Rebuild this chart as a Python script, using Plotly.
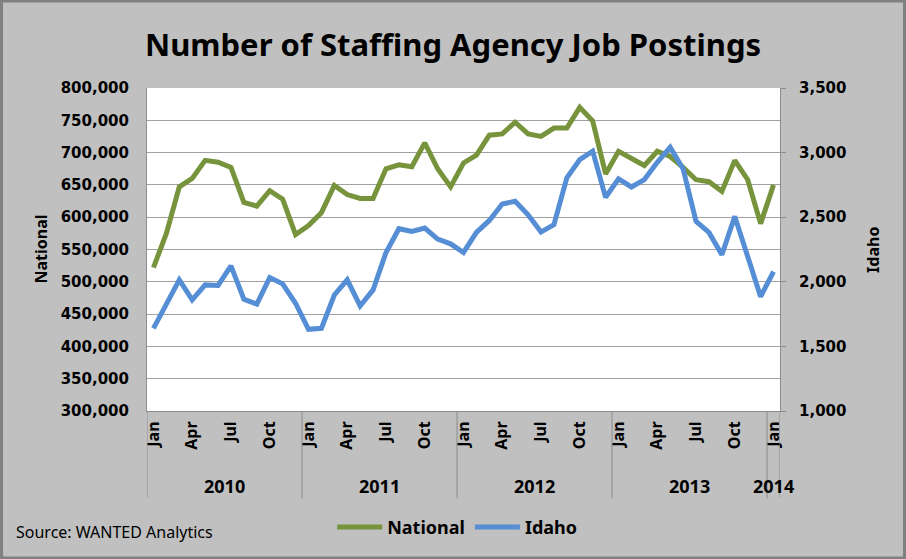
import plotly.graph_objects as go

# monthly postings, Jan 2010 .. Jan 2014
months = ["Jan", "Feb", "Mar", "Apr", "May", "Jun", "Jul", "Aug", "Sep", "Oct", "Nov", "Dec"] * 4 + ["Jan"]
years = ["2010", "2011", "2012", "2013", "2014"]

national = [
    522000, 575000, 647000, 660000, 688000, 685000, 677000, 623000, 617000, 641000, 628000, 573000,
    587000, 607000, 649000, 635000, 629000, 629000, 675000, 681000, 678000, 715000, 675000, 647000,
    684000, 696000, 727000, 729000, 747000, 729000, 725000, 738000, 738000, 770000, 749000, 667000,
    702000, 692000, 680000, 702000, 694000, 677000, 658000, 655000, 640000, 688000, 658000, 590000,
    650000,
]
idaho = [
    1640, 1828, 2015, 1860, 1976, 1972, 2123, 1865, 1828, 2033, 1984, 1834,
    1632, 1640, 1898, 2015, 1813, 1937, 2227, 2411, 2390, 2416, 2331, 2294,
    2227, 2382, 2475, 2602, 2623, 2519, 2385, 2442, 2804, 2946, 3011, 2654,
    2797, 2734, 2791, 2925, 3042, 2874, 2467, 2382, 2209, 2506, 2209, 1885,
    2079,
]

idx = list(range(len(months)))
tick_idx = [i for i in idx if months[i] in ("Jan", "Apr", "Jul", "Oct")]

NARROW = "Liberation Sans Narrow, Arial Narrow, Noto Sans"
TICKF = "DejaVu Sans"

fig = go.Figure()
fig.add_trace(go.Scatter(x=idx, y=national, name="<b>National</b>", mode="lines",
                         line=dict(color="#77933C", width=5)))
fig.add_trace(go.Scatter(x=idx, y=idaho, name="<b>Idaho</b>", mode="lines", yaxis="y2",
                         line=dict(color="#558ED5", width=5)))

# year groups under the month labels
bounds = [-0.5, 11.5, 23.5, 35.5, 47.5, 48.5]
for i, yr in enumerate(years):
    fig.add_annotation(x=(bounds[i] + bounds[i + 1]) / 2, y=-0.232, xref="x", yref="paper",
                       yanchor="middle", text="<b>" + yr + "</b>", showarrow=False,
                       font=dict(family=NARROW, size=18, color="black"))
for b in bounds:
    fig.add_shape(type="line", xref="x", yref="paper", x0=b, x1=b, y0=0, y1=-0.27,
                  line=dict(color="#8C8C8C", width=1))

# outer frame of the chart
fig.add_shape(type="rect", xref="paper", yref="paper", x0=-0.2298, x1=1.1967, y0=-0.4551, y1=1.2693,
              line=dict(color="#808080", width=3), layer="above")

fig.add_annotation(x=-0.169, y=0.5, xref="paper", yref="paper", xanchor="center", yanchor="middle",
                   text="<b>National</b>", textangle=-90, showarrow=False,
                   font=dict(family=NARROW, size=16, color="black"))
fig.add_annotation(x=1.146, y=0.5, xref="paper", yref="paper", xanchor="center", yanchor="middle",
                   text="<b>Idaho</b>", textangle=-90, showarrow=False,
                   font=dict(family=NARROW, size=16, color="black"))
fig.add_annotation(x=-0.21, y=-0.375, xref="paper", yref="paper", xanchor="left", yanchor="middle",
                   text="Source: WANTED Analytics", showarrow=False,
                   font=dict(family=NARROW, size=16, color="black"))

fig.update_layout(
    width=906, height=559,
    margin=dict(l=147, r=126, t=88, b=148),
    paper_bgcolor="#C0C0C0",
    plot_bgcolor="white",
    title=dict(text="<b>Number of Staffing Agency Job Postings</b>", x=0.5, xref="container",
               y=0.92, yref="container", xanchor="center", yanchor="middle",
               font=dict(family=NARROW, size=31, color="black")),
    xaxis=dict(range=[-0.5, 48.5], tickvals=tick_idx, ticktext=["<b>" + months[i] + "</b>" for i in tick_idx],
               tickangle=-90, showgrid=False, showline=True, linecolor="#8C8C8C", ticks="",
               ticklabelstandoff=3,
               tickfont=dict(family=NARROW, size=16, color="black"), zeroline=False),
    yaxis=dict(range=[300000, 800000], dtick=50000, tickformat=",", showgrid=True,
               gridcolor="#A0A0A0", gridwidth=1, showline=True, linecolor="#8C8C8C",
               ticklabelstandoff=14,
               tickfont=dict(family=TICKF, size=15, color="black"), zeroline=False),
    yaxis2=dict(range=[1000, 3500], dtick=500, tickformat=",", overlaying="y", side="right",
                showgrid=False, showline=True, linecolor="#8C8C8C", ticks="outside",
                ticklen=5, tickcolor="#8C8C8C", ticklabelstandoff=10,
                tickfont=dict(family=TICKF, size=15, color="black"), zeroline=False),
    legend=dict(orientation="h", x=0.49, xanchor="center", y=-0.36, yanchor="middle",
                itemwidth=45, bgcolor="rgba(0,0,0,0)",
                font=dict(family=NARROW, size=18, color="black")),
)
fig.update_yaxes(tickprefix="<b>", ticksuffix="</b>")

fig.write_html("out.html", config={"displayModeBar": False},
               post_script="document.body.style.margin='0';")
